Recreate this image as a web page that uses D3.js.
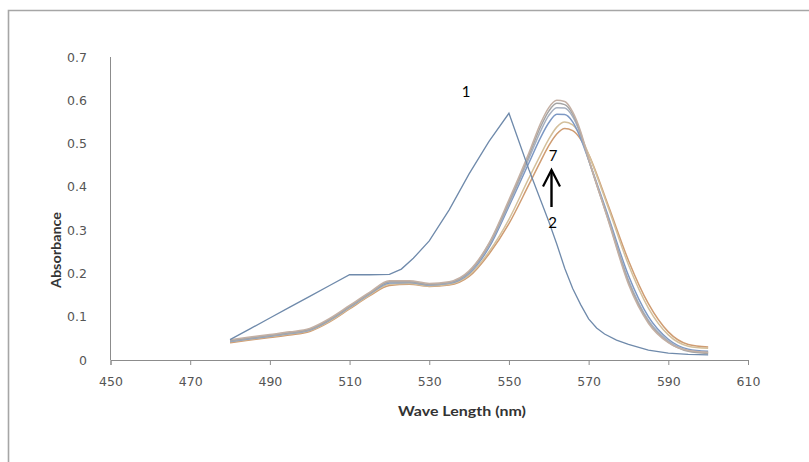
<!DOCTYPE html>
<html>
<head>
<meta charset="utf-8">
<script src="https://cdn.jsdelivr.net/npm/d3@7/dist/d3.min.js"></script>
<style>
  html, body { margin: 0; padding: 0; background: #fff; }
  svg { display: block; }
</style>
</head>
<body>
<svg id="chart" width="809" height="462"></svg>
<script>
// ---------- DATA ----------
const xTicks = [450, 470, 490, 510, 530, 550, 570, 590, 610];
const yTicks = [0, 0.1, 0.2, 0.3, 0.4, 0.5, 0.6, 0.7];

// curve 1 wavelengths (nm)
const wl1 = [480,485,490,495,500,505,510,515,520,523,526,530,535,540,545,550,555,560,562,564,566,568,570,572,574,577,580,585,590,595,600];
const abs1 = [0.047,0.072,0.097,0.122,0.147,0.172,0.197,0.197,0.198,0.21,0.235,0.275,0.347,0.43,0.505,0.57,0.44,0.32,0.268,0.212,0.165,0.128,0.095,0.074,0.06,0.046,0.036,0.023,0.016,0.013,0.012];

// curves 2-7 wavelengths (nm)
const wl = [480,485,490,495,500,505,510,515,520,525,530,535,540,545,550,555,558,560,562,564,566,568,570,575,580,585,590,595,600];
const abs2 = [0.040,0.046,0.052,0.058,0.066,0.088,0.118,0.148,0.172,0.175,0.170,0.173,0.193,0.245,0.315,0.405,0.46,0.495,0.522,0.535,0.53,0.51,0.475,0.355,0.23,0.13,0.065,0.036,0.030];
const abs3 = [0.042,0.048,0.054,0.060,0.068,0.090,0.120,0.150,0.175,0.177,0.171,0.175,0.196,0.25,0.325,0.42,0.475,0.51,0.538,0.55,0.543,0.518,0.475,0.35,0.22,0.12,0.058,0.032,0.027];
const abs4 = [0.043,0.049,0.055,0.061,0.069,0.092,0.122,0.152,0.178,0.179,0.173,0.177,0.200,0.26,0.355,0.455,0.515,0.548,0.568,0.567,0.55,0.512,0.462,0.33,0.195,0.10,0.048,0.025,0.020];
const abs5 = [0.044,0.050,0.056,0.062,0.070,0.093,0.123,0.153,0.180,0.180,0.174,0.178,0.202,0.265,0.36,0.465,0.53,0.565,0.583,0.582,0.562,0.52,0.462,0.325,0.185,0.092,0.044,0.022,0.017];
const abs6 = [0.045,0.051,0.057,0.063,0.071,0.094,0.124,0.154,0.181,0.181,0.175,0.179,0.204,0.268,0.365,0.472,0.54,0.575,0.593,0.59,0.568,0.524,0.463,0.322,0.18,0.088,0.041,0.020,0.015];
const abs7 = [0.047,0.053,0.059,0.065,0.073,0.096,0.126,0.156,0.183,0.183,0.177,0.181,0.206,0.27,0.37,0.478,0.548,0.583,0.600,0.597,0.573,0.528,0.465,0.32,0.175,0.085,0.040,0.022,0.018];

const groupSeries = [abs2, abs3, abs4, abs5, abs6, abs7];
const groupColors = ["#cf9c72", "#d4c09c", "#7c98c4", "#a6b0c0", "#a4a4a4", "#c4b0a4"];
const curve1Color = "#6f8aab";

// ---------- CHART ----------
const svg = d3.select("#chart");
const W = 809, H = 462;

// outer frame (top & left visible)
svg.append("path")
  .attr("d", `M8.5,${H} L8.5,10.5 L${W},10.5`)
  .attr("fill", "none").attr("stroke", "#a6a6a6").attr("stroke-width", 1.6);

const x = d3.scaleLinear().domain([450, 610]).range([110.5, 748]);
const y = d3.scaleLinear().domain([0, 0.7]).range([360, 57]);

const axisColor = "#8c8c8c";
const labelFont = "DejaVu Sans, sans-serif";

// y axis line
svg.append("line").attr("x1", x(450)).attr("x2", x(450)).attr("y1", y(0.7)).attr("y2", y(0))
  .attr("stroke", axisColor).attr("stroke-width", 1);

// x axis
const xAxis = d3.axisBottom(x).tickValues(xTicks).tickSize(5).tickFormat(d3.format("d"));
const gx = svg.append("g").attr("transform", `translate(0,${y(0)})`).call(xAxis);
gx.select(".domain").attr("stroke", axisColor);
gx.selectAll(".tick line").attr("stroke", axisColor);
gx.selectAll(".tick text").attr("font-family", labelFont).attr("font-size", 12.5)
  .attr("fill", "#555").attr("y", 17).attr("dy", "0.71em");

// y tick labels
svg.append("g").selectAll("text").data(yTicks).join("text")
  .attr("x", 87).attr("y", d => y(d)).attr("dy", "0.36em")
  .attr("text-anchor", "end")
  .attr("font-family", labelFont).attr("font-size", 12.5).attr("fill", "#555")
  .text(d => d === 0 ? "0" : d3.format(".1f")(d));

// axis titles
svg.append("text").attr("x", 462).attr("y", 416).attr("text-anchor", "middle")
  .attr("font-family", "Lato, 'Open Sans', sans-serif").attr("font-weight", "bold")
  .attr("font-size", 13.5).attr("fill", "#333")
  .attr("textLength", 128).attr("lengthAdjust", "spacingAndGlyphs")
  .text("Wave Length (nm)");

svg.append("text").attr("transform", "translate(61,250) rotate(-90)").attr("text-anchor", "middle")
  .attr("font-family", "Lato, 'Open Sans', sans-serif").attr("font-weight", "bold")
  .attr("font-size", 12.5).attr("fill", "#333")
  .attr("textLength", 76).attr("lengthAdjust", "spacingAndGlyphs")
  .text("Absorbance");

// group curves
const lineG = d3.line().x((d, i) => x(wl[i])).y(d => y(d)).curve(d3.curveMonotoneX);
svg.append("g").selectAll("path").data(groupSeries).join("path")
  .attr("d", d => lineG(d))
  .attr("fill", "none")
  .attr("stroke", (d, i) => groupColors[i])
  .attr("stroke-width", 1.5);

// curve 1
const line1 = d3.line().x((d, i) => x(wl1[i])).y(d => y(d)).curve(d3.curveLinear);
svg.append("path").attr("d", line1(abs1)).attr("fill", "none")
  .attr("stroke", curve1Color).attr("stroke-width", 1.3);

// annotations
const annFont = "Lato, 'Open Sans', sans-serif";
svg.append("text").attr("x", 466).attr("y", 97).attr("text-anchor", "middle")
  .attr("font-family", annFont).attr("font-size", 15).attr("fill", "#000").text("1");
svg.append("text").attr("x", 553).attr("y", 161).attr("text-anchor", "middle")
  .attr("font-family", annFont).attr("font-size", 15).attr("fill", "#000").text("7");
svg.append("text").attr("x", 552.5).attr("y", 228).attr("text-anchor", "middle")
  .attr("font-family", annFont).attr("font-size", 15).attr("fill", "#000").text("2");

// arrow
svg.append("line").attr("x1", 551.5).attr("x2", 551.5).attr("y1", 207).attr("y2", 170.5)
  .attr("stroke", "#000").attr("stroke-width", 2.4);
svg.append("path").attr("d", "M543,186.5 L551.5,170 L560,186.5")
  .attr("fill", "none").attr("stroke", "#000").attr("stroke-width", 2.2).attr("stroke-linejoin", "miter");
</script>
</body>
</html>
